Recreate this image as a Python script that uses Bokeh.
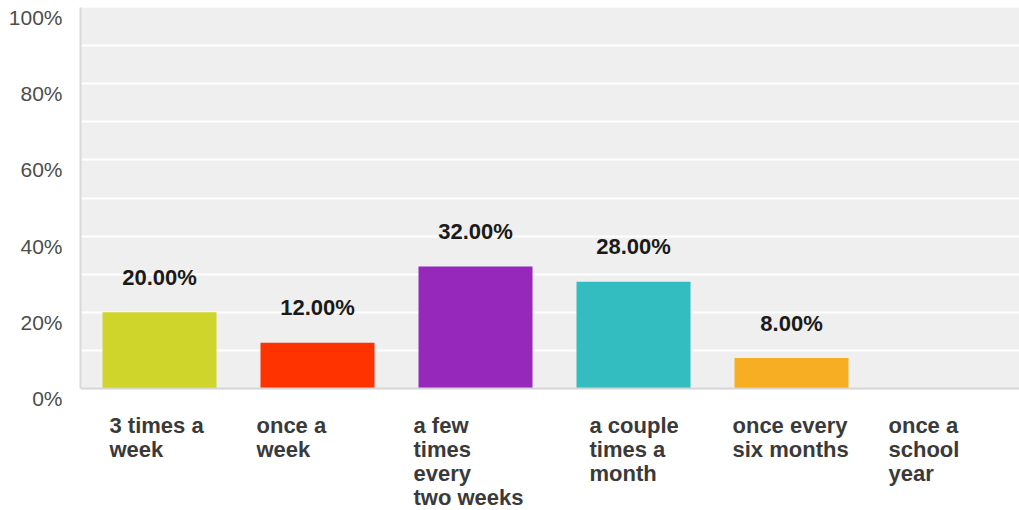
from bokeh.plotting import figure
from bokeh.models import Range1d, FixedTicker, Label, ColumnDataSource, LinearAxis, BoxAnnotation
from bokeh.core.properties import value
from bokeh.embed import file_html
from bokeh.resources import INLINE

categories = ["3 times a week", "once a week", "a few times every two weeks",
              "a couple times a month", "once every six months", "once a school year"]
category_lines = ["3 times a\nweek", "once a\nweek", "a few\ntimes\nevery\ntwo weeks",
                  "a couple\ntimes a\nmonth", "once every\nsix months", "once a\nschool\nyear"]
values = [20.0, 12.0, 32.0, 28.0, 8.0, 0.0]
colors = ["#cfd52a", "#ff3300", "#9629bb", "#33bdc0", "#f8ae22", "#aaaaaa"]
y_tick_values = [0, 20, 40, 60, 80, 100]
y_tick_labels = ["0%", "20%", "40%", "60%", "80%", "100%"]
grid_values = [0, 10, 20, 30, 40, 50, 60, 70, 80, 90, 100]
label_dx = [-50, -61, -62, -44, -59, -61]  # pixel offsets of category labels from bar centre

FONT = "Liberation Sans"
slot_px = 158
frame_left = 80
frame_top = 7
plot_bottom = 388          # screen y of the 0% line
frame_w = 1019 - frame_left
px_per_unit = (plot_bottom - frame_top) / 100.0
y_lo = -(510 - plot_bottom) / px_per_unit
label_shift = 10 / px_per_unit   # y tick labels sit ~10px below their gridline

xs = [i + 0.5 for i in range(len(categories))]
src = ColumnDataSource(dict(x=xs, top=values, color=colors, cat=categories))
lab_idx = [i for i, v in enumerate(values) if v > 0]
lab_src = ColumnDataSource(dict(x=[xs[i] for i in lab_idx], y=[values[i] for i in lab_idx],
                                text=[f"{values[i]:.2f}%" for i in lab_idx]))

p = figure(width=1019, height=510, output_backend="svg", toolbar_location=None,
           x_range=Range1d(0, frame_w / slot_px), y_range=Range1d(y_lo, 100),
           min_border_left=frame_left, min_border_right=0, min_border_top=frame_top,
           min_border_bottom=0)
p.extra_y_ranges = {"labels": Range1d(y_lo + label_shift, 100 + label_shift)}
p.outline_line_color = None
p.background_fill_color = "white"
p.border_fill_color = "white"

p.add_layout(BoxAnnotation(left=0, right=frame_w / slot_px, bottom=0, top=100,
                           fill_color="#efefef", fill_alpha=1, line_color=None, level="image"))

p.vbar(x="x", top="top", width=114 / slot_px, bottom=0, color="color", source=src, line_color=None)
p.text(x="x", y="y", text="text", source=lab_src, text_align="center", text_baseline="middle",
       y_offset=-35, text_font=value(FONT), text_font_size="22px",
       text_font_style="bold", text_color="#1a1a1a")

# grid
p.xgrid.visible = False
p.ygrid.ticker = FixedTicker(ticks=grid_values)
p.ygrid.grid_line_color = "white"
p.ygrid.grid_line_width = 2
p.ygrid.bounds = (0, 100)

# main y axis: just the line
p.yaxis.ticker = FixedTicker(ticks=[])
p.yaxis.bounds = (0, 100)
p.yaxis.major_tick_line_color = None
p.yaxis.minor_tick_line_color = None
p.yaxis.axis_line_color = "#d9d9d9"
p.yaxis.axis_line_width = 2
p.yaxis.major_label_text_font_size = "0px"
p.yaxis.major_label_standoff = 0

# labelled y axis
lab_axis = LinearAxis(y_range_name="labels", ticker=FixedTicker(ticks=y_tick_values),
                      major_label_overrides={v: t for v, t in zip(y_tick_values, y_tick_labels)},
                      major_tick_line_color=None, minor_tick_line_color=None,
                      axis_line_color=None, major_label_standoff=12,
                      major_label_text_font=FONT, major_label_text_font_size="21px",
                      major_label_text_color="#4d4d4d")
p.add_layout(lab_axis, "left")

# x axis at 0
p.xaxis.ticker = FixedTicker(ticks=[])
p.xaxis.fixed_location = 0
p.xaxis.major_tick_line_color = None
p.xaxis.minor_tick_line_color = None
p.xaxis.axis_line_color = "#d4d4d4"
p.xaxis.axis_line_width = 2

for i, txt in enumerate(category_lines):
    p.add_layout(Label(x=xs[i], y=0, x_offset=label_dx[i], y_offset=-24, text=txt,
                       text_align="left", text_baseline="top", text_font=FONT,
                       text_font_size="22px", text_font_style="bold", text_color="#3a3a3a",
                       text_line_height=0.97))

open("out.html", "w").write(file_html(p, INLINE))
